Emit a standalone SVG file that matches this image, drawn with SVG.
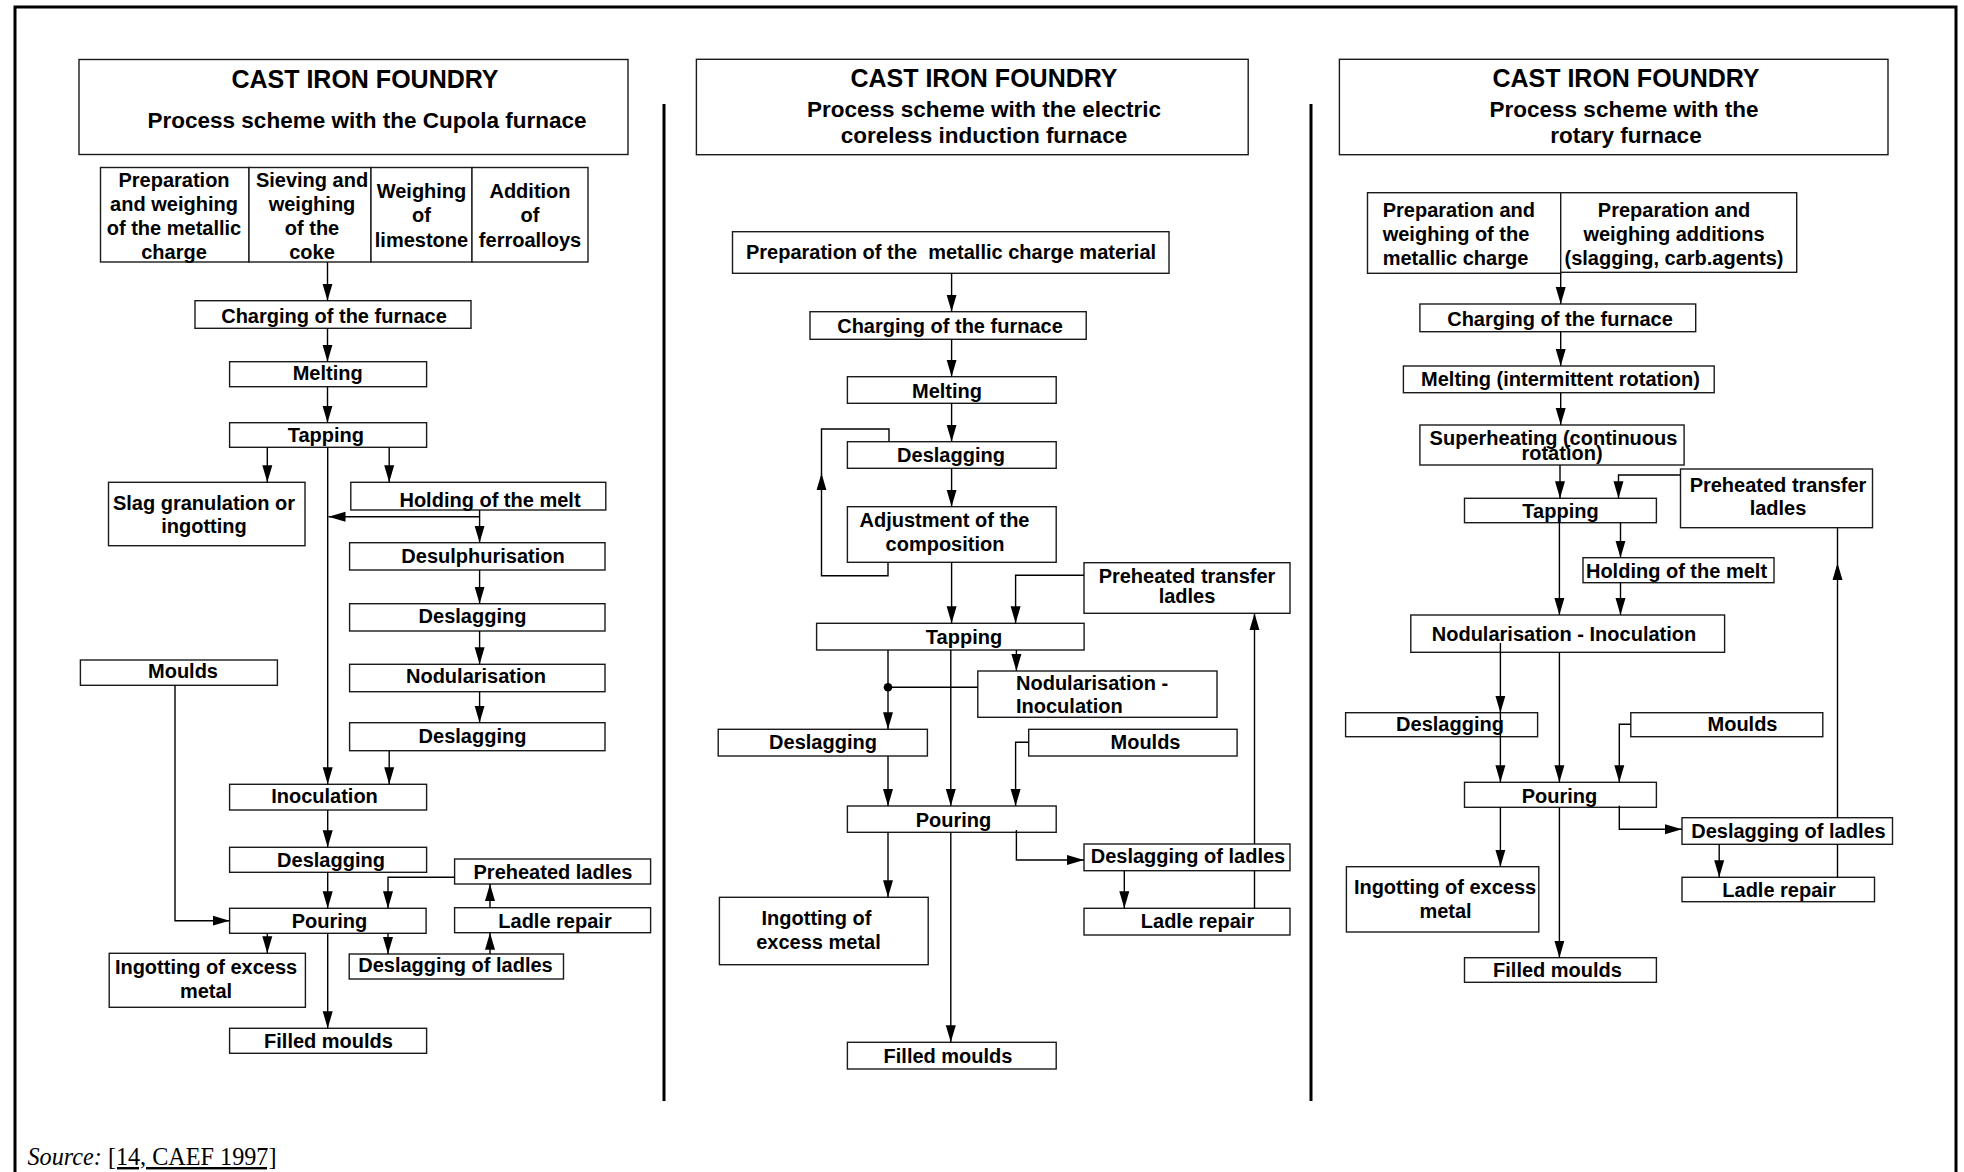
<svg xmlns="http://www.w3.org/2000/svg" width="1964" height="1172" viewBox="0 0 1964 1172">
<style>
.box{fill:#fff;stroke:#1a1a1a;stroke-width:1.4}
.t{font-family:"Liberation Sans",Arial,sans-serif;font-weight:bold;font-size:20px;fill:#000;text-anchor:middle}
.s{text-anchor:start}
.h1{font-size:25px}
.h2{font-size:22.5px}
.c{fill:none;stroke:#000;stroke-width:1.4}
.a{marker-end:url(#ah)}
.div{stroke:#000;stroke-width:3}
.src{font-family:"Liberation Serif","Times New Roman",serif;font-size:24.2px;fill:#000}
</style>
<defs>
<marker id="ah" markerUnits="userSpaceOnUse" markerWidth="18" markerHeight="11" refX="17" refY="5.5" orient="auto">
<path d="M0,0.5 L17,5.5 L0,10.5 z" fill="#000"/>
</marker>
</defs>
<rect width="1964" height="1172" fill="#fff"/>
<path d="M15,1172 V7 H1956 V1172" fill="none" stroke="#000" stroke-width="3"/>
<line class="div" x1="664" y1="104" x2="664" y2="1101"/>
<line class="div" x1="1311" y1="104" x2="1311" y2="1101"/>

<!-- Column 1 -->
<g id="c1-head"><rect class="box" x="79" y="59.5" width="549" height="95"/><text class="t h1" x="365" y="88">CAST IRON FOUNDRY</text><text class="t h2" x="367" y="127.5">Process scheme with the Cupola furnace</text></g>
<g id="c1-prep-metal"><rect class="box" x="100.5" y="167.5" width="148.5" height="94.5"/><text class="t" x="174" y="186.7">Preparation</text><text class="t" x="174" y="210.7">and weighing</text><text class="t" x="174" y="235">of the metallic</text><text class="t" x="174" y="259">charge</text></g>
<g id="c1-prep-coke"><rect class="box" x="249" y="167.5" width="122" height="94.5"/><text class="t" x="312" y="186.7">Sieving and</text><text class="t" x="312" y="211">weighing</text><text class="t" x="312" y="235">of the</text><text class="t" x="312" y="259">coke</text></g>
<g id="c1-prep-lime"><rect class="box" x="371" y="167.5" width="101" height="94.5"/><text class="t" x="421.5" y="198">Weighing</text><text class="t" x="421.5" y="222">of</text><text class="t" x="421.5" y="246.7">limestone</text></g>
<g id="c1-prep-ferro"><rect class="box" x="472" y="167.5" width="116" height="94.5"/><text class="t" x="530" y="198">Addition</text><text class="t" x="530" y="222">of</text><text class="t" x="530" y="246.7">ferroalloys</text></g>
<g id="c1-charging"><rect class="box" x="195" y="300.7" width="276" height="27.6"/><text class="t" x="334" y="323.3">Charging of the furnace</text></g>
<g id="c1-melting"><rect class="box" x="229.6" y="361.7" width="197" height="25"/><text class="t" x="327.7" y="380">Melting</text></g>
<g id="c1-tapping"><rect class="box" x="229.6" y="422.7" width="197" height="24.6"/><text class="t" x="325.8" y="441.7">Tapping</text></g>
<g id="c1-slag"><rect class="box" x="108.5" y="482.3" width="196.5" height="63.4"/><text class="t" x="204" y="510">Slag granulation or</text><text class="t" x="204" y="533.3">ingotting</text></g>
<g id="c1-holding"><rect class="box" x="350.8" y="482.3" width="255" height="27.7"/><text class="t" x="490" y="506.7">Holding of the melt</text></g>
<g id="c1-desulph"><rect class="box" x="349.6" y="542.7" width="255.4" height="27.3"/><text class="t" x="483" y="563.3">Desulphurisation</text></g>
<g id="c1-deslag1"><rect class="box" x="349.6" y="603.7" width="255.4" height="27.3"/><text class="t" x="472.5" y="623.3">Deslagging</text></g>
<g id="c1-nodul"><rect class="box" x="349.6" y="664.3" width="255.4" height="27.4"/><text class="t" x="476" y="683.3">Nodularisation</text></g>
<g id="c1-deslag2"><rect class="box" x="349.6" y="722.7" width="255.4" height="28"/><text class="t" x="472.5" y="743.3">Deslagging</text></g>
<g id="c1-moulds"><rect class="box" x="80.4" y="660" width="197" height="25.3"/><text class="t" x="183" y="678.3">Moulds</text></g>
<g id="c1-inoc"><rect class="box" x="229.6" y="784.3" width="197" height="25.7"/><text class="t" x="324.5" y="803.3">Inoculation</text></g>
<g id="c1-deslag3"><rect class="box" x="229.6" y="847.3" width="197" height="25"/><text class="t" x="331" y="866.7">Deslagging</text></g>
<g id="c1-pouring"><rect class="box" x="229.6" y="908.3" width="196.5" height="25"/><text class="t" x="329.5" y="928.3">Pouring</text></g>
<g id="c1-preheated"><rect class="box" x="454.6" y="859" width="196" height="25"/><text class="t" x="553" y="879.3">Preheated ladles</text></g>
<g id="c1-ladlerep"><rect class="box" x="454.6" y="907.7" width="196" height="25"/><text class="t" x="555" y="928.3">Ladle repair</text></g>
<g id="c1-deslagladles"><rect class="box" x="349.2" y="954" width="214.3" height="25"/><text class="t" x="455.5" y="971.7">Deslagging of ladles</text></g>
<g id="c1-ingot"><rect class="box" x="109.2" y="953.3" width="196.2" height="54"/><text class="t" x="206" y="974">Ingotting of excess</text><text class="t" x="206" y="998.3">metal</text></g>
<g id="c1-filled"><rect class="box" x="229.6" y="1028.3" width="197" height="25"/><text class="t" x="328.5" y="1048.3">Filled moulds</text></g>

<!-- Column 2 -->
<g id="c2-head"><rect class="box" x="696.4" y="59.3" width="551.8" height="95.4"/><text class="t h1" x="984" y="87.3">CAST IRON FOUNDRY</text><text class="t h2" x="984" y="116.7">Process scheme with the electric</text><text class="t h2" x="984" y="142.7">coreless induction furnace</text></g>
<g id="c2-prep"><rect class="box" x="732.5" y="231.7" width="436.5" height="41.6"/><text class="t" x="951" y="259.3">Preparation of the &#160;metallic charge material</text></g>
<g id="c2-charging"><rect class="box" x="810" y="311.7" width="276.2" height="27.6"/><text class="t" x="950" y="333.3">Charging of the furnace</text></g>
<g id="c2-melting"><rect class="box" x="847.4" y="376.7" width="208.8" height="26.6"/><text class="t" x="947" y="398.3">Melting</text></g>
<g id="c2-deslag1"><rect class="box" x="847.4" y="441.7" width="208.8" height="26.6"/><text class="t" x="951" y="461.7">Deslagging</text></g>
<g id="c2-adjust"><rect class="box" x="847.4" y="506.7" width="208.8" height="55.6"/><text class="t" x="944.5" y="527.3">Adjustment of the</text><text class="t" x="945" y="551">composition</text></g>
<g id="c2-preheated"><rect class="box" x="1084" y="562.7" width="206" height="50.6"/><text class="t" x="1187" y="583.3">Preheated transfer</text><text class="t" x="1187" y="603.3">ladles</text></g>
<g id="c2-tapping"><rect class="box" x="816.6" y="623.3" width="267.5" height="26.7"/><text class="t" x="964" y="644.3">Tapping</text></g>
<g id="c2-nodinoc"><rect class="box" x="977.8" y="671" width="239.2" height="46.3"/><text class="t s" x="1016" y="690">Nodularisation -</text><text class="t s" x="1016" y="713.3">Inoculation</text></g>
<g id="c2-deslag2"><rect class="box" x="718.2" y="729.3" width="209.2" height="26.7"/><text class="t" x="823" y="749.3">Deslagging</text></g>
<g id="c2-moulds"><rect class="box" x="1028.7" y="729.3" width="208.4" height="26.7"/><text class="t" x="1145.5" y="749.3">Moulds</text></g>
<g id="c2-pouring"><rect class="box" x="847.4" y="806" width="208.8" height="26.3"/><text class="t" x="953.5" y="826.7">Pouring</text></g>
<g id="c2-deslagladles"><rect class="box" x="1084" y="844" width="206" height="26.7"/><text class="t" x="1188" y="863.3">Deslagging of ladles</text></g>
<g id="c2-ladlerep"><rect class="box" x="1084" y="908.3" width="206" height="26.7"/><text class="t" x="1197.5" y="928.3">Ladle repair</text></g>
<g id="c2-ingot"><rect class="box" x="719.4" y="897.3" width="208.8" height="67.4"/><text class="t" x="816.5" y="925">Ingotting of</text><text class="t" x="818.5" y="949.3">excess metal</text></g>
<g id="c2-filled"><rect class="box" x="847.4" y="1042.3" width="208.8" height="26.7"/><text class="t" x="948" y="1062.7">Filled moulds</text></g>

<!-- Column 3 -->
<g id="c3-head"><rect class="box" x="1339.4" y="59.3" width="548.6" height="95.4"/><text class="t h1" x="1626" y="87.3">CAST IRON FOUNDRY</text><text class="t h2" x="1624" y="116.7">Process scheme with the</text><text class="t h2" x="1626" y="142.7">rotary furnace</text></g>
<g id="c3-prep-metal"><rect class="box" x="1367.5" y="192.7" width="193.2" height="80.6"/><text class="t s" x="1382.7" y="216.7">Preparation and</text><text class="t s" x="1382.7" y="240.7">weighing of the</text><text class="t s" x="1382.7" y="265">metallic charge</text></g>
<g id="c3-prep-add"><rect class="box" x="1560.7" y="192.7" width="236" height="79.6"/><text class="t" x="1674" y="216.7">Preparation and</text><text class="t" x="1674" y="240.7">weighing additions</text><text class="t" x="1674" y="265">(slagging, carb.agents)</text></g>
<g id="c3-charging"><rect class="box" x="1419.9" y="304" width="275.8" height="27.7"/><text class="t" x="1560" y="326">Charging of the furnace</text></g>
<g id="c3-melting"><rect class="box" x="1403.4" y="366" width="310.8" height="26.7"/><text class="t" x="1560.5" y="386">Melting (intermittent rotation)</text></g>
<g id="c3-superheat"><rect class="box" x="1419.9" y="425" width="264.2" height="40"/><text class="t" x="1553.5" y="444.5">Superheating (continuous</text><text class="t" x="1562" y="460">rotation)</text></g>
<g id="c3-preheated"><rect class="box" x="1680.5" y="469" width="192" height="58.7"/><text class="t" x="1778" y="491.7">Preheated transfer</text><text class="t" x="1778" y="515">ladles</text></g>
<g id="c3-tapping"><rect class="box" x="1464.5" y="498.3" width="191.9" height="24.4"/><text class="t" x="1560.5" y="518.3">Tapping</text></g>
<g id="c3-holding"><rect class="box" x="1583" y="557.7" width="191" height="25"/><text class="t" x="1676.5" y="578.3">Holding of the melt</text></g>
<g id="c3-nodinoc"><rect class="box" x="1410.8" y="615" width="313.8" height="37.3"/><text class="t" x="1564" y="640.7">Nodularisation - Inoculation</text></g>
<g id="c3-deslag"><rect class="box" x="1345.6" y="712.7" width="192" height="24"/><text class="t" x="1450" y="731">Deslagging</text></g>
<g id="c3-moulds"><rect class="box" x="1630.8" y="712.7" width="192" height="24"/><text class="t" x="1742.5" y="731">Moulds</text></g>
<g id="c3-pouring"><rect class="box" x="1464.5" y="782.3" width="191.9" height="25"/><text class="t" x="1559.5" y="802.7">Pouring</text></g>
<g id="c3-deslagladles"><rect class="box" x="1682" y="817.7" width="210.5" height="26.6"/><text class="t" x="1788.5" y="838.3">Deslagging of ladles</text></g>
<g id="c3-ladlerep"><rect class="box" x="1682" y="877.3" width="192.5" height="24.4"/><text class="t" x="1779" y="896.7">Ladle repair</text></g>
<g id="c3-ingot"><rect class="box" x="1346.4" y="866.7" width="192.4" height="65.3"/><text class="t" x="1445" y="894">Ingotting of excess</text><text class="t" x="1445.5" y="918.3">metal</text></g>
<g id="c3-filled"><rect class="box" x="1464.5" y="957.7" width="191.9" height="24.6"/><text class="t" x="1557.5" y="976.7">Filled moulds</text></g>

<g id="connectors">
<!-- col 1 -->
<path class="c a" d="M327.5,262 V300.7"/>
<path class="c a" d="M327.5,328.3 V361.7"/>
<path class="c a" d="M327.5,386.7 V422.7"/>
<path class="c a" d="M267.3,447.3 V482.3"/>
<path class="c a" d="M389.2,447.3 V482.3"/>
<path class="c a" d="M327.7,447.3 V784.3"/>
<path class="c a" d="M479.6,510 V542.7"/>
<path class="c a" d="M479.6,516.7 H328.5"/>
<path class="c a" d="M479.6,570 V603.7"/>
<path class="c a" d="M479.6,631 V664.3"/>
<path class="c a" d="M479.6,691.7 V722.7"/>
<path class="c a" d="M389.2,750.7 V784.3"/>
<path class="c a" d="M327.7,810 V847.3"/>
<path class="c a" d="M327.7,872.3 V908.3"/>
<path class="c a" d="M175,685.3 V920.7 H229.6"/>
<path class="c a" d="M454.6,877.3 H388 V908.3"/>
<path class="c a" d="M490,907.7 V884"/>
<path class="c a" d="M490,954 V932.7"/>
<path class="c a" d="M267.3,933.3 V953.3"/>
<path class="c a" d="M327.7,933.3 V1028.3"/>
<path class="c a" d="M388,933.3 V954"/>
<!-- col 2 -->
<path class="c a" d="M951.6,273.3 V311.7"/>
<path class="c a" d="M951.6,339.3 V376.7"/>
<path class="c a" d="M951.6,403.3 V441.7"/>
<path class="c a" d="M951.6,468.3 V506.7"/>
<path class="c a" d="M888,562.3 V575.7 H821.5 V473.3"/>
<path class="c" d="M821.5,474 V429 H889 V441.7"/>
<path class="c a" d="M951.6,562.3 V623.3"/>
<path class="c a" d="M1084,575.3 H1015.6 V623.3"/>
<path class="c a" d="M888,650 V729.3"/>
<circle cx="888" cy="687.3" r="4.3" fill="#000"/>
<path class="c" d="M888,687.3 H977.8"/>
<path class="c a" d="M950.8,650 V806"/>
<path class="c a" d="M1016.4,650 V671"/>
<path class="c a" d="M1028.7,742.3 H1015.6 V806"/>
<path class="c a" d="M888,756 V806"/>
<path class="c a" d="M888,832.3 V897.3"/>
<path class="c a" d="M950.8,832.3 V1042.3"/>
<path class="c a" d="M1016.4,830 V860 H1084"/>
<path class="c a" d="M1124.3,870.7 V908.3"/>
<path class="c" d="M1254.5,908.3 V870.7"/>
<path class="c a" d="M1254.5,844 V613.3"/>
<!-- col 3 -->
<path class="c a" d="M1560.7,273.3 V304"/>
<path class="c a" d="M1560.7,331.7 V366"/>
<path class="c a" d="M1560.7,392.7 V425"/>
<path class="c a" d="M1560,465 V498.3"/>
<path class="c a" d="M1680.5,475 H1618.5 V498.3"/>
<path class="c a" d="M1559.4,515 V615"/>
<path class="c a" d="M1620.5,522.7 V557.7"/>
<path class="c a" d="M1620.5,582.7 V615"/>
<path class="c a" d="M1500.4,643 V712.7"/>
<path class="c a" d="M1500.4,712.7 V782.3"/>
<path class="c a" d="M1559.4,652.3 V782.3"/>
<path class="c a" d="M1630.8,724.3 H1619.3 V782.3"/>
<path class="c a" d="M1500.4,807.3 V866.7"/>
<path class="c a" d="M1559.4,807.3 V957.7"/>
<path class="c a" d="M1619.3,805.7 V829.3 H1682"/>
<path class="c a" d="M1719.2,844.3 V877.3"/>
<path class="c" d="M1837.5,877.3 V844.3"/>
<path class="c a" d="M1837.5,817.7 V563"/>
<path class="c" d="M1837.5,563 V527.7"/>
</g>

<text class="src" x="27.5" y="1165"><tspan font-style="italic">Source:</tspan> <tspan text-decoration="underline">[14, CAEF 1997]</tspan></text>
</svg>
